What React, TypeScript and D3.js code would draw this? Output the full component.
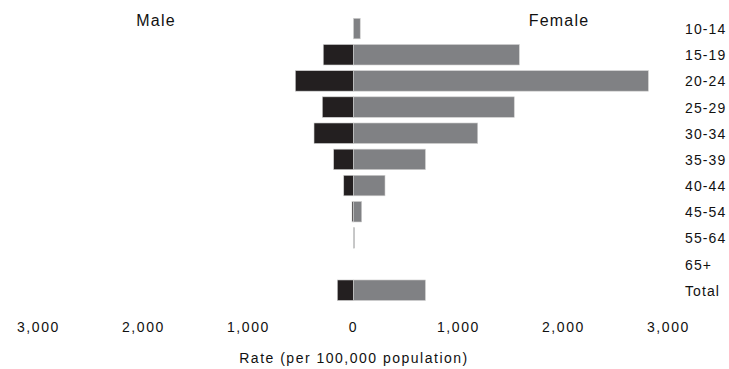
import React from "react";
import * as d3 from "d3";

const ageGroups = ["10-14", "15-19", "20-24", "25-29", "30-34", "35-39", "40-44", "45-54", "55-64", "65+", "Total"];
const maleRates = [0, 288, 554, 297, 376, 189, 93, 14, 0, 0, 154];
const femaleRates = [64, 1579, 2808, 1531, 1183, 685, 300, 78, 10, 0, 685];
const tickValues = [-3000, -2000, -1000, 0, 1000, 2000, 3000];
const sideLabels = ["Male", "Female"];
const axisTitle = "Rate (per 100,000 population)";

const W = 729;
const H = 369;

export default function App() {
  const x = d3.scaleLinear().domain([-3000, 3000]).range([38.5, 668.5]);
  const y = d3
    .scaleBand<string>()
    .domain(ageGroups)
    .range([15.5, 303.3])
    .paddingInner(0.217)
    .paddingOuter(0.1085);
  const fmt = d3.format(",");
  const font = "'Liberation Sans', Arial, sans-serif";
  const rows = ageGroups.map((g, i) => ({ g, m: maleRates[i], f: femaleRates[i] }));

  return (
    <svg
      width={W}
      height={H}
      style={{ position: "absolute", left: 0, top: 0, background: "#fff" }}
      fontFamily={font}
    >
      {rows.map((r) => (
        <g key={r.g}>
          {r.m > 0 && (
            <rect
              x={x(-r.m)}
              y={y(r.g)}
              width={x(0) - x(-r.m)}
              height={y.bandwidth()}
              fill="#231f20"
              stroke="#cfcfcf"
              strokeWidth={0.6}
            />
          )}
          {r.f > 0 && (
            <rect
              x={x(0)}
              y={y(r.g)}
              width={x(r.f) - x(0)}
              height={y.bandwidth()}
              fill="#808184"
              stroke="#cfcfcf"
              strokeWidth={0.6}
            />
          )}
          <text
            x={685}
            y={(y(r.g) as number) + y.bandwidth() / 2 + 5.5}
            fontSize={14}
            letterSpacing={1.1}
            fill="#111"
          >
            {r.g}
          </text>
        </g>
      ))}
      <text x={156} y={26} fontSize={16} letterSpacing={1.2} textAnchor="middle" fill="#111">
        {sideLabels[0]}
      </text>
      <text x={559} y={26} fontSize={16} letterSpacing={1.2} textAnchor="middle" fill="#111">
        {sideLabels[1]}
      </text>
      {tickValues.map((t) => (
        <text
          key={t}
          x={x(t)}
          y={332}
          fontSize={14}
          letterSpacing={1.6}
          textAnchor="middle"
          fill="#111"
        >
          {fmt(Math.abs(t))}
        </text>
      ))}
      <text x={354} y={363} fontSize={14} letterSpacing={1.5} textAnchor="middle" fill="#111">
        {axisTitle}
      </text>
    </svg>
  );
}
